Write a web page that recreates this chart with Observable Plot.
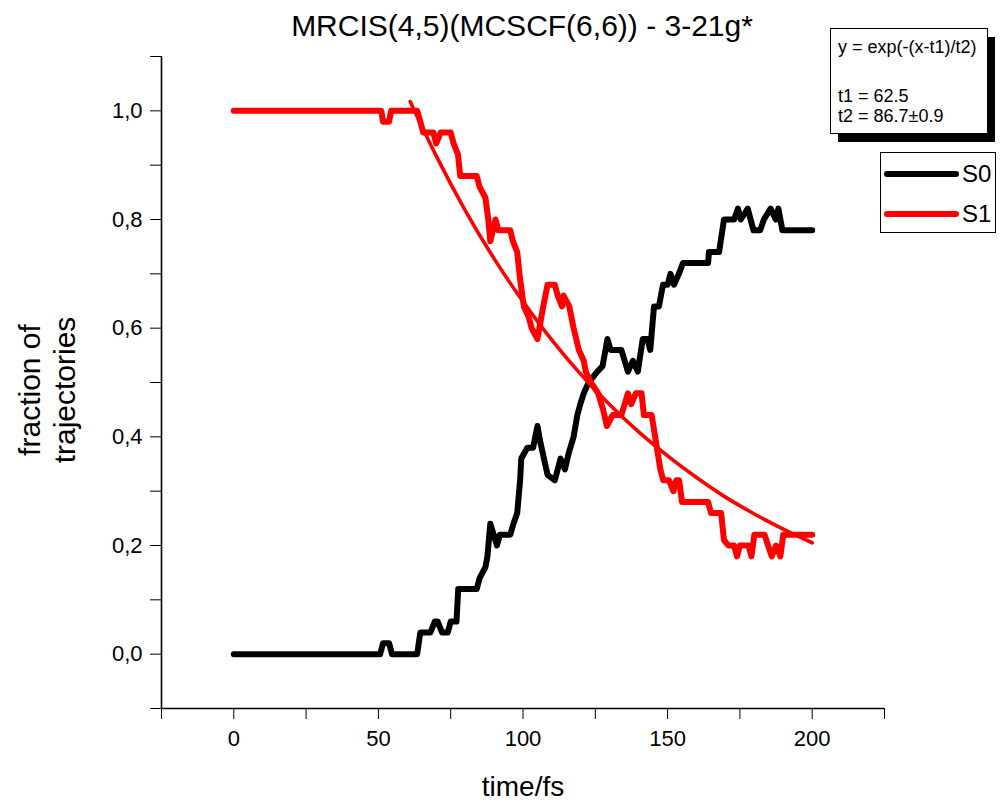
<!DOCTYPE html>
<html>
<head>
<meta charset="utf-8">
<script src="https://cdn.jsdelivr.net/npm/d3@7"></script>
<script src="https://cdn.jsdelivr.net/npm/@observablehq/plot@0.6"></script>
<style>
  html, body { margin: 0; padding: 0; background: white; }
  #wrap { position: relative; width: 1002px; height: 802px; font-family: "Liberation Sans", Arial, sans-serif; color: black; overflow: hidden; }
  #chart { position: absolute; left: 0; top: 0; }
  .abs { position: absolute; white-space: nowrap; }
</style>
</head>
<body>
<div id="wrap">
  <div id="chart"></div>
  <div class="abs" id="title" style="left:0;width:1044px;top:11px;text-align:center;font-size:30px;line-height:30px;">MRCIS(4,5)(MCSCF(6,6)) - 3-21g*</div>
  <div class="abs" style="left:523px;top:773px;transform:translateX(-50%);font-size:28px;line-height:28px;">time/fs</div>
  <div class="abs" style="left:47px;top:390px;transform:translate(-50%,-50%) rotate(-90deg);font-size:30px;text-align:center;line-height:35px;">fraction of<br>trajectories</div>
  <div class="abs" style="left:838px;top:37px;width:157px;height:105px;background:black;"></div>
  <div class="abs" style="left:830px;top:28px;width:156px;height:104px;background:white;border:1px solid black;font-size:18px;line-height:18px;">
    <div style="position:absolute;left:7px;top:9px;">y = exp(-(x-t1)/t2)</div>
    <div style="position:absolute;left:7px;top:58px;">t1 = 62.5</div>
    <div style="position:absolute;left:7px;top:78px;">t2 = 86.7±0.9</div>
  </div>
  <div class="abs" id="legend" style="left:880px;top:152px;width:114px;height:79px;background:white;border:1px solid black;font-size:24px;line-height:24px;"></div>
</div>
<script>
// ---- data ----
const s0Time = [0,50.6,51.6,53.7,54.7,63.4,64.5,68,69.5,70.5,72,74,75,77,77.6,84,85,87,87.7,88.7,91,92,95.6,96.7,98,99,99.4,101.5,103.5,105,106,108.5,111,113,114.5,115.8,117.5,118.8,119.8,121,122.7,125.7,127.5,129.2,130.3,134,136.3,138,139.7,141.4,143,144,145.3,147,148.4,150,151,152.2,153.9,155.3,164,164.3,167.8,169.5,173,174.3,175.3,177.7,179.7,182,183.3,185.6,187.4,188.3,189.7,200];
const s0Value = [0,0,0.02,0.02,0,0,0.04,0.04,0.06,0.06,0.04,0.04,0.06,0.06,0.12,0.12,0.14,0.16,0.18,0.24,0.20,0.22,0.22,0.24,0.26,0.32,0.36,0.38,0.38,0.42,0.39,0.33,0.32,0.36,0.34,0.37,0.40,0.44,0.46,0.48,0.50,0.52,0.53,0.58,0.56,0.56,0.52,0.54,0.52,0.58,0.58,0.56,0.64,0.64,0.68,0.68,0.70,0.68,0.70,0.72,0.72,0.74,0.74,0.80,0.80,0.82,0.80,0.82,0.78,0.78,0.80,0.82,0.80,0.82,0.78,0.78];

const s1Time = [0,51.0,51.6,53.7,54.4,63.4,64.5,65.5,69,70,71.5,75,76,77.5,78.3,84,85,87,88,88.7,90.5,91.5,95.6,96.5,98,99,100.3,102,103,105,107,108.5,111,112,113.5,114,116,117.5,119.3,121,121.7,123.5,126,127.7,129,131,134,136.3,137.4,139,141,141.8,144.5,146,147.5,148.5,150.5,152,153,154,155,164,165,168.5,169.5,171,173,174,175,178,179,180,183.5,186,187.5,189,190,200];
const s1Value = [1,1,0.98,0.98,1,1,0.98,0.96,0.96,0.94,0.96,0.96,0.94,0.92,0.88,0.88,0.86,0.84,0.80,0.76,0.80,0.78,0.78,0.76,0.74,0.69,0.64,0.62,0.60,0.58,0.64,0.68,0.68,0.66,0.64,0.66,0.64,0.60,0.56,0.54,0.52,0.50,0.48,0.45,0.42,0.44,0.44,0.48,0.46,0.48,0.48,0.44,0.44,0.39,0.34,0.32,0.32,0.30,0.32,0.32,0.28,0.28,0.26,0.26,0.21,0.20,0.20,0.18,0.20,0.20,0.18,0.22,0.22,0.18,0.20,0.18,0.22,0.22];

const fitTime  = [61,70,80,90,100,110,120,130,140,150,160,170,180,190,200];
const fitValue = [1.017,0.917,0.817,0.728,0.649,0.578,0.515,0.459,0.409,0.365,0.325,0.289,0.258,0.230,0.205];

const xMajorTicks = [0,50,100,150,200];
const xMinorTicks = [-25,25,75,125,175,225];
const yMajorTicks = [0,0.2,0.4,0.6,0.8,1.0];
const yMinorTicks = [-0.1,0.1,0.3,0.5,0.7,0.9,1.1];

const seriesNames = ["S0","S1"];
const seriesColors = ["#000000","#ff0000"];

// ---- build tables ----
const s0 = s0Time.map((t,i)=>({t, v:s0Value[i]}));
const s1 = s1Time.map((t,i)=>({t, v:s1Value[i]}));
const fit = fitTime.map((t,i)=>({t, v:fitValue[i]}));

const fmt = d => d.toFixed(1).replace(".", ",");

const chart = Plot.plot({
  width: 1002,
  height: 802,
  marginLeft: 161,
  marginRight: 118,
  marginTop: 56,
  marginBottom: 94,
  style: {fontFamily: "'Liberation Sans', Arial, sans-serif", fontSize: "22px", color: "black", background: "white"},
  x: {domain: [-25, 225], label: null},
  y: {domain: [-0.1, 1.1], label: null},
  marks: [
    Plot.axisX({ticks: xMajorTicks, tickSize: 11, tickPadding: 11, tickFormat: d => String(d), fontSize: 22, label: null}),
    Plot.axisX({ticks: xMinorTicks, tickSize: 11, tickFormat: () => "", label: null}),
    Plot.axisY({ticks: yMajorTicks, tickSize: 11, tickPadding: 8, tickFormat: fmt, fontSize: 22, label: null}),
    Plot.axisY({ticks: yMinorTicks, tickSize: 11, tickFormat: () => "", label: null}),
    Plot.ruleX([-25], {y1: -0.1, y2: 1.1, stroke: "black", strokeWidth: 1.6}),
    Plot.ruleY([-0.1], {x1: -25, x2: 225, stroke: "black", strokeWidth: 1.6}),
    Plot.line(s0, {x: "t", y: "v", stroke: seriesColors[0], strokeWidth: 6, strokeLinejoin: "round", strokeLinecap: "round"}),
    Plot.line(s1, {x: "t", y: "v", stroke: seriesColors[1], strokeWidth: 6, strokeLinejoin: "round", strokeLinecap: "round"}),
    Plot.line(fit, {x: "t", y: "v", stroke: seriesColors[1], strokeWidth: 3.6, curve: "natural"})
  ]
});
document.getElementById("chart").appendChild(chart);

// legend
const leg = document.getElementById("legend");
seriesNames.forEach((name, i) => {
  const row = document.createElement("div");
  row.style.cssText = `position:absolute;left:3px;top:${9 + i*40}px;height:24px;display:flex;align-items:center;`;
  row.innerHTML = `<span style="display:inline-block;width:75px;height:6px;border-radius:3px;background:${seriesColors[i]};margin-right:3px;"></span><span>${name}</span>`;
  leg.appendChild(row);
});
</script>
</body>
</html>
